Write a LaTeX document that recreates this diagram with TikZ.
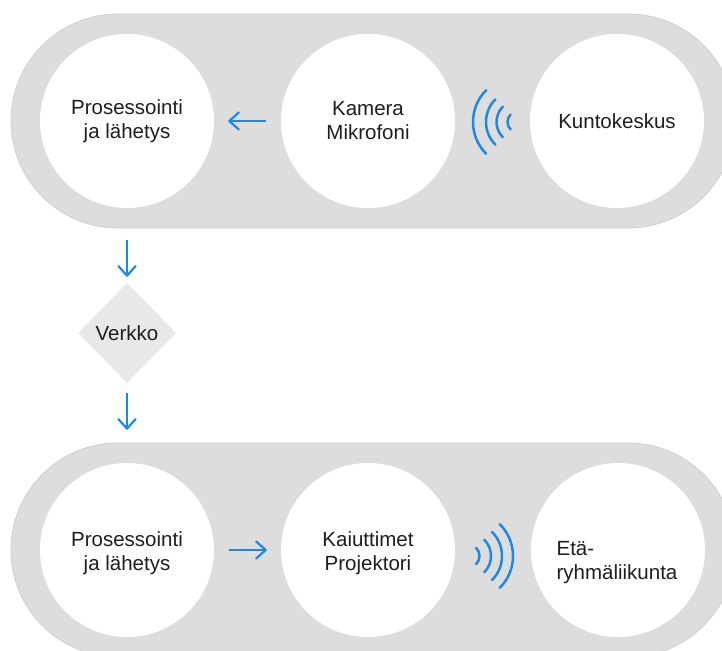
\documentclass[tikz,border=0pt]{standalone}
\usepackage{fontspec}
\setmainfont{Liberation Sans}
\usetikzlibrary{arrows.meta,shapes.geometric}
\definecolor{pillgray}{HTML}{DDDDDD}
\definecolor{edgegray}{HTML}{CFCFCF}
\definecolor{netgray}{HTML}{E8E8E8}
\definecolor{flowblue}{HTML}{1E88E5}
\definecolor{ink}{HTML}{1E1E1E}

\begin{document}
\begin{tikzpicture}[x=1pt,y=-1pt,
  pill/.style={fill=pillgray, draw=edgegray, line width=0.8pt, rounded corners=107pt},
  station/.style={circle, fill=white, minimum size=174pt, inner sep=0pt,
    font=\fontsize{20.5}{24}\selectfont, text=ink, align=center},
  caption/.style={font=\fontsize{20.5}{24}\selectfont, text=ink, inner sep=0pt},
  flow/.style={draw=flowblue, line width=2.2pt,
    -{Straight Barb[length=9.5pt,width=17pt,line width=2.2pt,round]}},
  wave/.style={draw=flowblue, line width=2.5pt, line cap=round},
  net/.style={diamond, fill=netgray, minimum width=98pt, minimum height=100pt,
    inner sep=0pt, font=\fontsize{20.5}{24}\selectfont, text=ink}]

\useasboundingbox (0,0) rectangle (722,650);
\clip (0,0) rectangle (722,650);

% sending side
\path[pill] (11,14) rectangle (735,228);
% receiving side
\path[pill] (11,443) rectangle (735,657);

% sending side stations
\node[station] (c1) at (127,121) {Prosessointi\\ja lähetys};
\node[station] (c2) at (368,121) {Kamera\\Mikrofoni};
\node[station] (c3) at (617,121) {Kuntokeskus};

% receiving side stations
\node[station] (d1) at (127,550) {};
\node[caption, align=center] (d1t) at (127,553) {Prosessointi\\ja lähetys};
\node[station] (d2) at (368,550) {};
\node[caption, align=center] (d2t) at (368,553) {Kaiuttimet\\Projektori};
\node[station] (d3) at (618,550) {};
\node[caption, align=left] (d3t) at (617,563) {Etä-\\ryhmäliikunta};

% network
\node[net] (net) at (127,333) {Verkko};

% data flow
\draw[flow, shorten <=15pt, shorten >=14pt] (c2.west) -- (c1.east);
\draw[flow, shorten <=32pt, shorten >=6pt] (c1.south) -- (net.north);
\draw[flow, shorten <=10pt, shorten >=33pt] (net.south) -- (d1.north);
\draw[flow, shorten <=15pt, shorten >=14pt] (d1.east) -- (d2.west);

% signal waves: from the gym towards the camera
\coordinate (wtop) at (518,122);
\foreach \r in {10.5,21.5,32,45}
  \draw[wave] (wtop) ++(135:\r) arc[start angle=135,end angle=225,radius=\r];

% signal waves: from the speakers towards the remote group
\coordinate (wbot) at (468,556);
\foreach \r in {11.5,23,34,45}
  \draw[wave] (wbot) ++(-45:\r) arc[start angle=-45,end angle=45,radius=\r];

\end{tikzpicture}
\end{document}
